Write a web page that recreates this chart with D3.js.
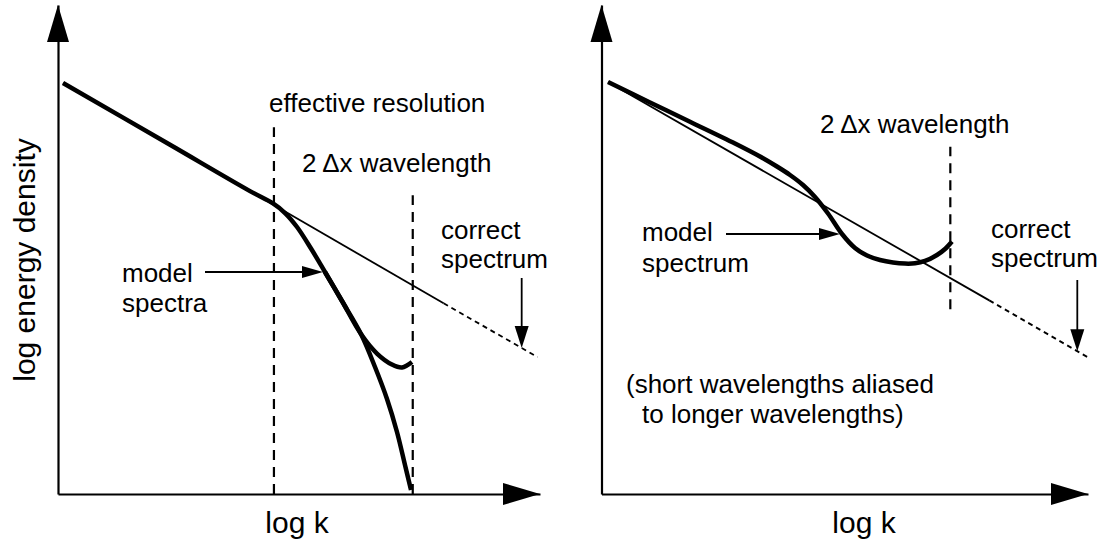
<!DOCTYPE html>
<html>
<head>
<meta charset="utf-8">
<script src="https://cdn.jsdelivr.net/npm/d3@7"></script>
<style>
  html, body { margin: 0; padding: 0; background: #ffffff; }
  svg { display: block; }
  text { font-family: "Liberation Sans", Arial, Helvetica, sans-serif; fill: #000; }
</style>
</head>
<body>
<svg id="chart" width="1102" height="542"></svg>
<script>
// ---------- DATA (schematic units: log k 0–10, log energy density 0–10) ----------
const axisLabelX = "log k";
const axisLabelY = "log energy density";

// Left panel
const leftCorrectSolid  = [[0.104, 8.405], [8.00, 3.90]];
const leftCorrectDotted = [[8.00, 3.90], [9.95, 2.80]];
const leftModelDamped = [
  [0.104, 8.405], [2.324, 7.141], [3.983, 6.194], [4.461, 5.941],
  [4.710, 5.746], [4.959, 5.460], [5.249, 5.020], [5.539, 4.540],
  [5.892, 3.947], [6.286, 3.272], [6.577, 2.597], [6.826, 1.943],
  [7.033, 1.268], [7.199, 0.593], [7.324, 0.082]
];
const leftModelUpturn = [
  [5.539, 4.540], [5.892, 3.947], [6.286, 3.272], [6.618, 2.873],
  [6.929, 2.648], [7.137, 2.587], [7.344, 2.699]
];
const leftResolutionK = 4.48, leftResolutionTop = 7.50;
const leftTwoDxK = 7.36, leftTwoDxTop = 6.11;
const leftModelArrowK = 5.539;     // arrow points at model curve here
const leftCorrectArrowK = 9.62;    // arrow points at correct spectrum here

// Right panel
const rightCorrectSolid  = [[0.134, 8.425], [7.97, 3.96]];
const rightCorrectDotted = [[7.97, 3.96], [9.99, 2.80]];
const rightModel = [
  [0.134, 8.425], [0.997, 8.006], [1.819, 7.613], [2.744, 7.168],
  [3.258, 6.902], [3.607, 6.697], [3.875, 6.524], [4.142, 6.319],
  [4.389, 6.074], [4.656, 5.736], [4.944, 5.317], [5.211, 5.031],
  [5.458, 4.877], [5.725, 4.785], [5.992, 4.734], [6.239, 4.712],
  [6.444, 4.718], [6.650, 4.765], [6.896, 4.888], [7.061, 5.010],
  [7.204, 5.164]
];
const rightTwoDxK = 7.17, rightTwoDxBottom = 3.78, rightTwoDxTop = 7.10;
const rightModelArrowK = 4.944;
const rightCorrectArrowK = 9.78;

// ---------- DRAWING ----------
const svg = d3.select("#chart");
const yScale = d3.scaleLinear().domain([0, 10]).range([494, 5]);
const xLeft  = d3.scaleLinear().domain([0, 10]).range([58, 540]);
const xRight = d3.scaleLinear().domain([0, 10]).range([601.5, 1088]);

function interpLine(pts, k) {
  const [a, b] = [pts[0], pts[pts.length - 1]];
  return a[1] + (b[1] - a[1]) * (k - a[0]) / (b[0] - a[0]);
}

function tri(g, tx, ty, dir, len, half) {
  let p;
  if (dir === "right") p = [[tx, ty], [tx - len, ty - half], [tx - len, ty + half]];
  else if (dir === "up") p = [[tx, ty], [tx - half, ty + len], [tx + half, ty + len]];
  else p = [[tx, ty], [tx - half, ty - len], [tx + half, ty - len]];
  g.append("path").attr("d", "M" + p.join("L") + "Z").attr("fill", "#000");
}

function drawAxes(g, x) {
  const y = yScale;
  g.append("g").attr("transform", `translate(0,${y(0)})`)
    .call(d3.axisBottom(x).tickValues([]).tickSizeOuter(0))
    .call(s => s.select(".domain").attr("stroke", "#000").attr("stroke-width", 2.2));
  g.append("g").attr("transform", `translate(${x(0)},0)`)
    .call(d3.axisLeft(y).tickValues([]).tickSizeOuter(0))
    .call(s => s.select(".domain").attr("stroke", "#000").attr("stroke-width", 2.2));
  tri(g, x(10), y(0), "right", 37, 11);
  tri(g, x(0), y(10), "up", 37, 11);
}

function label(g, lines, x, y, size, lineGap, anchor) {
  const t = g.append("text").attr("x", x).attr("y", y)
    .attr("font-size", size).attr("text-anchor", anchor || "start");
  lines.forEach((s, i) => {
    t.append("tspan").attr("x", x).attr("dy", i === 0 ? 0 : lineGap).text(s);
  });
  return t;
}

function vDash(g, x, k, e0, e1) {
  g.append("line")
    .attr("x1", x(k)).attr("x2", x(k))
    .attr("y1", yScale(e0)).attr("y2", yScale(e1))
    .attr("stroke", "#000").attr("stroke-width", 2.2)
    .attr("stroke-dasharray", "10,7");
}

const straight = x => d3.line().x(d => x(d[0])).y(d => yScale(d[1]));
const smooth = x => d3.line().x(d => x(d[0])).y(d => yScale(d[1])).curve(d3.curveCatmullRom.alpha(0.5));

// ===== Left panel =====
const L = svg.append("g");
drawAxes(L, xLeft);
vDash(L, xLeft, leftResolutionK, 0, leftResolutionTop);
vDash(L, xLeft, leftTwoDxK, 0, leftTwoDxTop);
L.append("path").attr("d", straight(xLeft)(leftCorrectSolid))
  .attr("fill", "none").attr("stroke", "#000").attr("stroke-width", 1.8);
L.append("path").attr("d", straight(xLeft)(leftCorrectDotted))
  .attr("fill", "none").attr("stroke", "#000").attr("stroke-width", 1.8)
  .attr("stroke-dasharray", "5,4");
L.append("path").attr("d", smooth(xLeft)(leftModelUpturn))
  .attr("fill", "none").attr("stroke", "#000").attr("stroke-width", 4.5);
L.append("path").attr("d", smooth(xLeft)(leftModelDamped))
  .attr("fill", "none").attr("stroke", "#000").attr("stroke-width", 4.5);

label(L, [axisLabelX], 297, 533, 30, 0, "middle");
label(L, [axisLabelY], 0, 0, 30, 0, "middle").attr("transform", "translate(35,260) rotate(-90)");
label(L, ["effective resolution"], 269, 112, 26, 0);
label(L, ["2 \u0394x wavelength"], 302, 172, 26, 0);
label(L, ["correct"], 441, 239, 26, 0);
label(L, ["spectrum"], 441, 268, 26, 0);
label(L, ["model"], 122, 282, 26, 0);
label(L, ["spectra"], 122, 312, 26, 0);
{
  const ty = yScale(leftModelDamped.find(d => d[0] === leftModelArrowK)[1]);
  const tx = xLeft(leftModelArrowK) - 2;
  L.append("line").attr("x1", 205).attr("x2", tx - 10).attr("y1", ty).attr("y2", ty)
    .attr("stroke", "#000").attr("stroke-width", 1.8);
  tri(L, tx, ty, "right", 21, 6);
  const cx = xLeft(leftCorrectArrowK);
  const cy = yScale(interpLine(leftCorrectDotted, leftCorrectArrowK));
  L.append("line").attr("x1", cx).attr("x2", cx).attr("y1", 278).attr("y2", cy - 10)
    .attr("stroke", "#000").attr("stroke-width", 1.8);
  tri(L, cx, cy, "down", 22, 7);
}

// ===== Right panel =====
const R = svg.append("g");
drawAxes(R, xRight);
vDash(R, xRight, rightTwoDxK, rightTwoDxBottom, rightTwoDxTop);
R.append("path").attr("d", straight(xRight)(rightCorrectSolid))
  .attr("fill", "none").attr("stroke", "#000").attr("stroke-width", 1.8);
R.append("path").attr("d", straight(xRight)(rightCorrectDotted))
  .attr("fill", "none").attr("stroke", "#000").attr("stroke-width", 1.8)
  .attr("stroke-dasharray", "5,4");
R.append("path").attr("d", smooth(xRight)(rightModel))
  .attr("fill", "none").attr("stroke", "#000").attr("stroke-width", 4.5);

label(R, [axisLabelX], 864, 533, 30, 0, "middle");
label(R, ["2 \u0394x wavelength"], 820, 133, 26, 0);
label(R, ["model"], 642, 241, 26, 0);
label(R, ["spectrum"], 642, 272, 26, 0);
label(R, ["correct"], 991, 238, 26, 0);
label(R, ["spectrum"], 991, 267, 26, 0);
label(R, ["(short wavelengths aliased"], 626, 393, 26, 0);
label(R, ["to longer wavelengths)"], 642, 423, 26, 0);
{
  const ty = yScale(rightModel.find(d => d[0] === rightModelArrowK)[1]);
  const tx = xRight(rightModelArrowK) - 2;
  R.append("line").attr("x1", 726).attr("x2", tx - 10).attr("y1", ty).attr("y2", ty)
    .attr("stroke", "#000").attr("stroke-width", 1.8);
  tri(R, tx, ty, "right", 21, 6);
  const cx = xRight(rightCorrectArrowK);
  const cy = yScale(interpLine(rightCorrectDotted, rightCorrectArrowK));
  R.append("line").attr("x1", cx).attr("x2", cx).attr("y1", 280).attr("y2", cy - 10)
    .attr("stroke", "#000").attr("stroke-width", 1.8);
  tri(R, cx, cy, "down", 22, 7);
}
</script>
</body>
</html>
